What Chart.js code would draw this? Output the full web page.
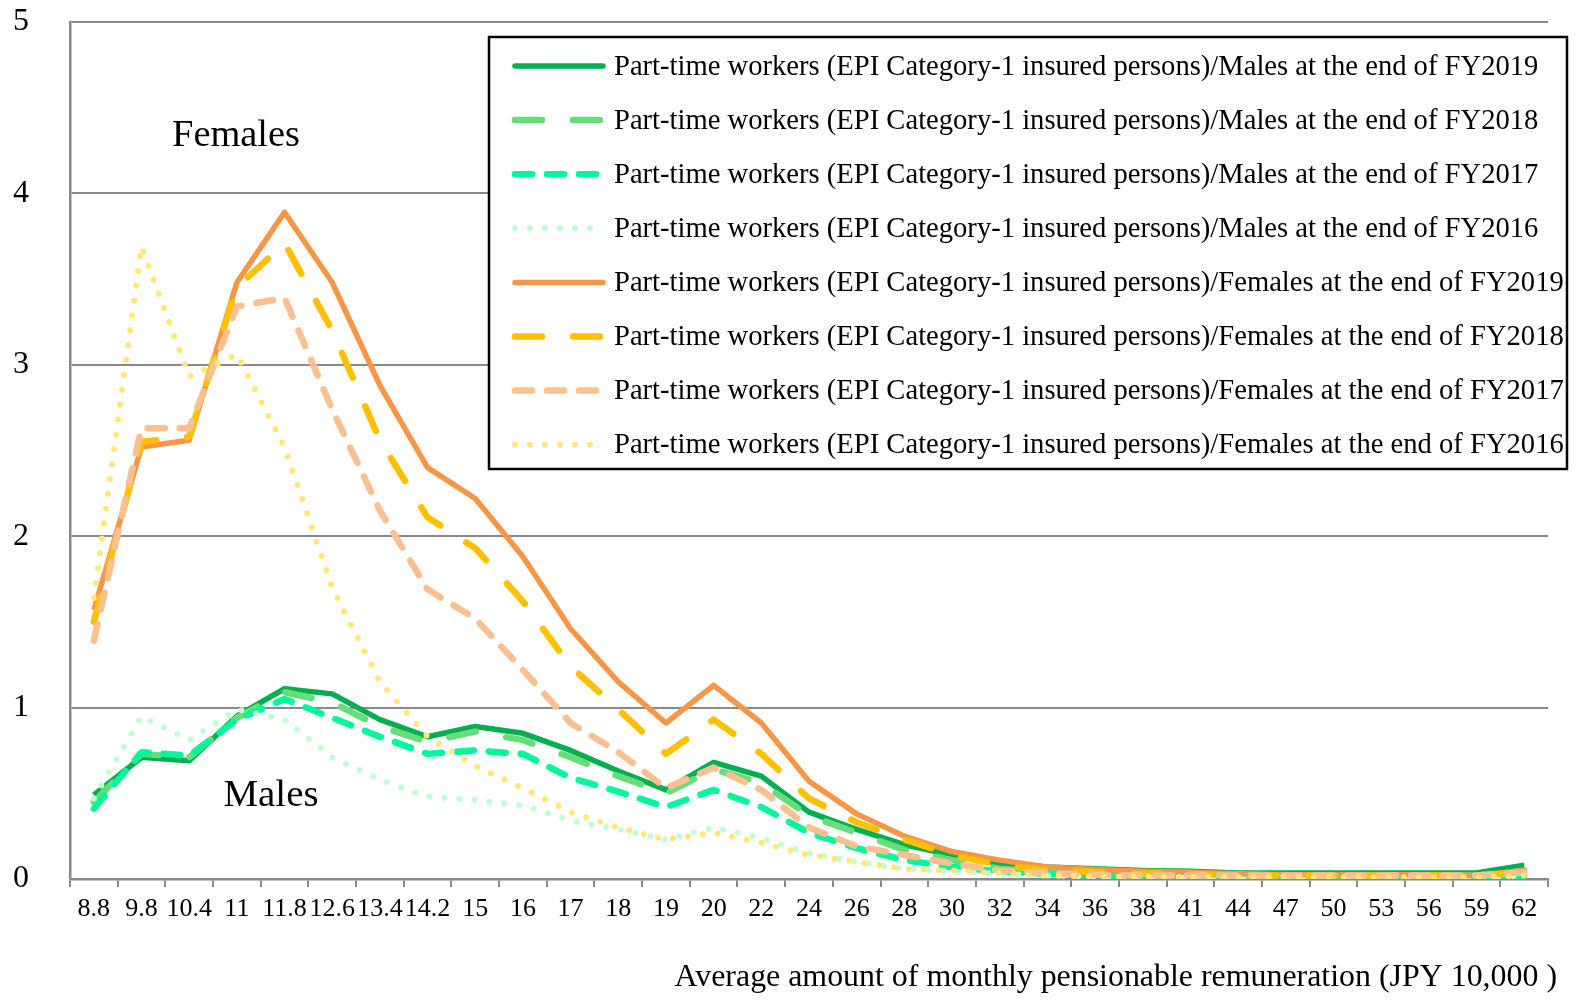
<!DOCTYPE html>
<html>
<head>
<meta charset="utf-8">
<script src="https://cdn.jsdelivr.net/npm/chart.js@4.4.1/dist/chart.umd.min.js"></script>
<style>
html,body{margin:0;padding:0;background:#fff;}
canvas{display:block;}
</style>
</head>
<body>
<canvas id="c" width="1579" height="1002"></canvas>
<script>
const categories = ['8.8','9.8','10.4','11','11.8','12.6','13.4','14.2','15','16','17','18','19','20','22','24','26','28','30','32','34','36','38','41','44','47','50','53','56','59','62'];

const males2019 = [0.49,0.71,0.69,0.95,1.11,1.08,0.93,0.83,0.89,0.85,0.75,0.63,0.52,0.68,0.60,0.39,0.29,0.20,0.14,0.09,0.07,0.06,0.05,0.045,0.035,0.035,0.035,0.035,0.035,0.035,0.08];
const males2018 = [0.45,0.73,0.71,0.94,1.09,1.03,0.89,0.80,0.86,0.81,0.71,0.60,0.50,0.64,0.56,0.37,0.27,0.17,0.11,0.06,0.04,0.03,0.03,0.03,0.02,0.02,0.02,0.02,0.02,0.02,0.05];
const males2017 = [0.41,0.74,0.72,0.93,1.05,0.94,0.83,0.73,0.75,0.73,0.59,0.51,0.42,0.52,0.42,0.27,0.18,0.11,0.07,0.045,0.03,0.02,0.02,0.01,0.01,0.01,0.01,0.01,0.01,0.01,0.02];
const males2016 = [0.47,0.95,0.81,0.99,0.93,0.71,0.58,0.48,0.46,0.43,0.34,0.29,0.23,0.30,0.24,0.15,0.10,0.06,0.045,0.03,0.02,0.015,0.01,0.01,0.01,0.01,0.01,0.01,0.01,0.01,0.02];
const females2019 = [1.57,2.52,2.56,3.48,3.89,3.48,2.88,2.40,2.22,1.88,1.46,1.15,0.91,1.13,0.91,0.57,0.38,0.25,0.16,0.11,0.07,0.055,0.045,0.04,0.03,0.025,0.025,0.025,0.025,0.02,0.05];
const females2018 = [1.50,2.55,2.58,3.45,3.71,3.20,2.56,2.11,1.93,1.62,1.24,0.99,0.73,0.93,0.73,0.47,0.33,0.23,0.14,0.08,0.05,0.04,0.03,0.03,0.02,0.02,0.02,0.02,0.02,0.02,0.04];
const females2017 = [1.39,2.63,2.63,3.34,3.39,2.74,2.15,1.69,1.52,1.22,0.91,0.74,0.53,0.65,0.52,0.30,0.19,0.14,0.09,0.05,0.035,0.025,0.02,0.02,0.02,0.02,0.02,0.02,0.02,0.02,0.04];
const females2016 = [1.64,3.69,2.93,3.06,2.52,1.70,1.15,0.83,0.66,0.53,0.39,0.30,0.23,0.27,0.21,0.14,0.10,0.06,0.05,0.035,0.02,0.015,0.015,0.01,0.01,0.01,0.01,0.01,0.01,0.01,0.02];

const seriesLabels = [
  'Part-time workers (EPI Category-1 insured persons)/Males at the end of FY2019',
  'Part-time workers (EPI Category-1 insured persons)/Males at the end of FY2018',
  'Part-time workers (EPI Category-1 insured persons)/Males at the end of FY2017',
  'Part-time workers (EPI Category-1 insured persons)/Males at the end of FY2016',
  'Part-time workers (EPI Category-1 insured persons)/Females at the end of FY2019',
  'Part-time workers (EPI Category-1 insured persons)/Females at the end of FY2018',
  'Part-time workers (EPI Category-1 insured persons)/Females at the end of FY2017',
  'Part-time workers (EPI Category-1 insured persons)/Females at the end of FY2016'
];
const yTickLabels = ['0','1','2','3','4','5'];
const xTitle = 'Average amount of monthly pensionable remuneration (JPY 10,000 )';

const SERIF = '"Liberation Serif", "DejaVu Serif", serif';
const seriesData = [males2019, males2018, males2017, males2016, females2019, females2018, females2017, females2016];
const styles = [
  {color:'#00B050', width:5.5, dash:[]},
  {color:'#66DD78', width:6.5, dash:[27,31]},
  {color:'#00F79B', width:6.5, dash:[17,15]},
  {color:'#C2FFD0', width:6, dash:[0,15]},
  {color:'#F79646', width:5.5, dash:[]},
  {color:'#FFC000', width:6.5, dash:[27,31]},
  {color:'#FAC090', width:6.5, dash:[17,15]},
  {color:'#FFE77A', width:6, dash:[0,15]}
];

const datasets = seriesData.map((d, i) => ({
  label: seriesLabels[i],
  data: d,
  borderColor: styles[i].color,
  backgroundColor: styles[i].color,
  borderWidth: styles[i].width,
  borderDash: styles[i].dash,
  borderCapStyle: styles[i].dash.length ? 'round' : 'butt',
  borderJoinStyle: 'round',
  pointRadius: 0,
  tension: 0,
  fill: false,
  order: -i
}));

function fitFont(ctx, text, width) {
  ctx.font = '100px ' + SERIF;
  const w = ctx.measureText(text).width;
  return 100 * width / w;
}

const overlay = {
  id: 'overlay',
  afterDraw(chart) {
    const ctx = chart.ctx;
    ctx.save();
    ctx.fillStyle = '#000';
    ctx.textAlign = 'center';
    ctx.textBaseline = 'middle';
    let fs = fitFont(ctx, 'Females', 128);
    ctx.font = fs.toFixed(1) + 'px ' + SERIF;
    ctx.fillText('Females', 236, 136);
    fs = fitFont(ctx, 'Males', 95);
    ctx.font = fs.toFixed(1) + 'px ' + SERIF;
    ctx.fillText('Males', 271, 796);

    fs = fitFont(ctx, xTitle, 882);
    ctx.font = fs.toFixed(1) + 'px ' + SERIF;
    ctx.textAlign = 'right';
    ctx.fillText(xTitle, 1557, 978);

    const bx = 489, by = 37, bw = 1078, bh = 432;
    ctx.fillStyle = '#fff';
    ctx.fillRect(bx, by, bw, bh);
    ctx.strokeStyle = '#000';
    ctx.lineWidth = 2.5;
    ctx.strokeRect(bx, by, bw, bh);
    fs = fitFont(ctx, seriesLabels[0], 923);
    ctx.font = fs.toFixed(1) + 'px ' + SERIF;
    ctx.textAlign = 'left';
    ctx.textBaseline = 'middle';
    for (let i = 0; i < datasets.length; i++) {
      const y = 66 + 54.1 * i;
      const st = styles[i];
      ctx.beginPath();
      ctx.strokeStyle = st.color;
      ctx.lineWidth = st.width;
      ctx.setLineDash(st.dash);
      ctx.lineCap = 'round';
      ctx.moveTo(515, y);
      ctx.lineTo(603, y);
      ctx.stroke();
      ctx.setLineDash([]);
      ctx.fillStyle = '#000';
      ctx.fillText(seriesLabels[i], 614, y + 1);
    }
    ctx.restore();
  }
};

const chart = new Chart(document.getElementById('c'), {
  type: 'line',
  data: { labels: categories, datasets: datasets },
  options: {
    responsive: false,
    animation: false,
    devicePixelRatio: 1,
    layout: { padding: { left: 13, right: 31, top: 22, bottom: 0 } },
    plugins: { legend: { display: false }, tooltip: { enabled: false }, title: { display: false } },
    scales: {
      x: {
        type: 'category',
        offset: true,
        grid: { display: true, drawOnChartArea: false, drawTicks: true, tickLength: 8, color: '#898989', lineWidth: 2, offset: true },
        border: { display: true, color: '#898989', width: 2.5 },
        ticks: { color: '#000', font: { family: SERIF, size: 26 }, padding: 7, maxRotation: 0, minRotation: 0, autoSkip: false },
        afterFit(scale) { scale.height = 123; }
      },
      y: {
        min: 0, max: 5,
        grid: { color: '#898989', lineWidth: 2, drawTicks: false },
        border: { display: true, color: '#898989', width: 2.5 },
        ticks: { stepSize: 1, color: '#000', font: { family: SERIF, size: 32 }, padding: 2, crossAlign: 'far',
          callback: (v) => yTickLabels[v] },
        afterFit(scale) { scale.width = 57; }
      }
    }
  },
  plugins: [overlay]
});

// nudge the layout so the plot area sits where the reference has it
const target = { top: 22, left: 70, right: 1548, bottom: 879 };
for (let k = 0; k < 2; k++) {
  const a = chart.chartArea;
  const p = chart.options.layout.padding;
  const dt = target.top - a.top, dl = target.left - a.left, dr = a.right - target.right, db = a.bottom - target.bottom;
  if (Math.abs(dt) + Math.abs(dl) + Math.abs(dr) + Math.abs(db) < 0.5) break;
  p.top += dt; p.left += dl; p.right += dr; p.bottom += db;
  chart.update();
}
</script>
</body>
</html>
